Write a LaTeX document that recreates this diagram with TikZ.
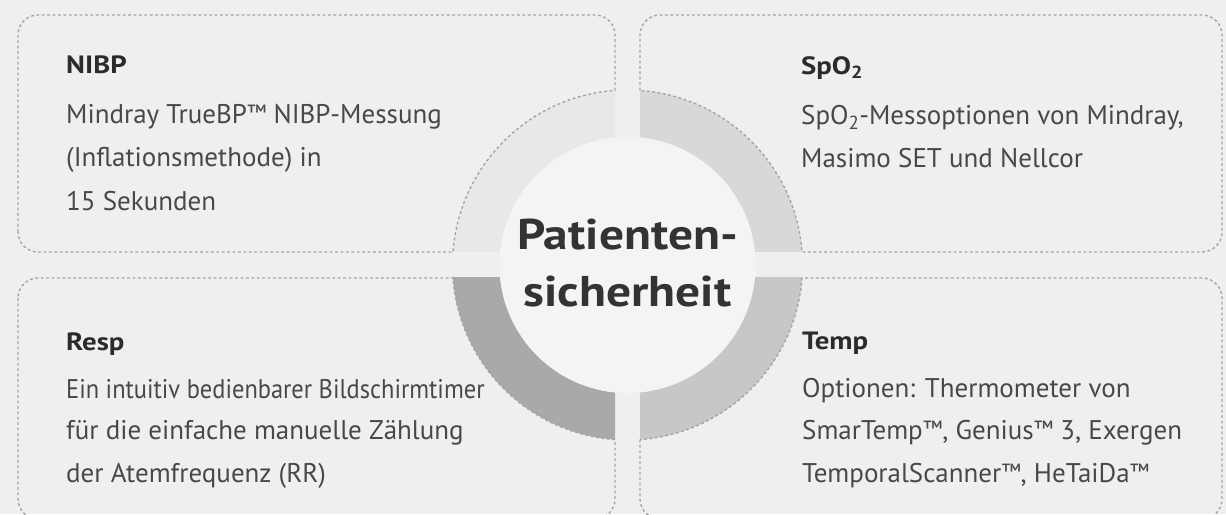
\documentclass[tikz,border=0pt]{standalone}
\usepackage{fontspec}
\setmainfont{PT Sans}
\newfontfamily\hdfont{PT Sans}[FakeStretch=1.15]
\definecolor{bg}{HTML}{EFEFEF}
\definecolor{qa}{HTML}{E8E8E8}
\definecolor{qb}{HTML}{D8D8D8}
\definecolor{qc}{HTML}{A9A9A9}
\definecolor{qd}{HTML}{C7C7C7}
\definecolor{innerc}{HTML}{F4F4F4}
\definecolor{dashc}{HTML}{A4A4A4}
\definecolor{txtc}{HTML}{484848}
\definecolor{ttlc}{HTML}{2B2B2B}
\definecolor{ctrc}{HTML}{333333}
\newcommand\tmark{\raisebox{.12em}{\fontsize{22}{22}\selectfont ™}}
\begin{document}
\begin{tikzpicture}[x=1pt,y=1pt,
  dashline/.style={draw=dashc, line width=1.4pt, dash pattern=on 2.8pt off 2.6pt},
  ttl/.style={anchor=base west, inner sep=0pt, font=\hdfont\fontsize{25}{28}\selectfont\bfseries, text=ttlc},
  body/.style={anchor=base west, inner sep=0pt, font=\fontsize{27}{32}\selectfont, text=txtc},
  ctr/.style={anchor=base, inner sep=0pt, font=\hdfont\fontsize{43}{50}\selectfont\bfseries, text=ctrc}]
\useasboundingbox (0,0) rectangle (1226,514);
\fill[bg] (0,0) rectangle (1226,514);
\coordinate (C) at (627.5,249);
% ring quadrants
\begin{scope}\clip (0,262) rectangle (615,514);
  \fill[qa, even odd rule] (C) circle[radius=175] (C) circle[radius=128];\end{scope}
\begin{scope}\clip (640,262) rectangle (1226,514);
  \fill[qb, even odd rule] (C) circle[radius=175] (C) circle[radius=128];\end{scope}
\begin{scope}\clip (0,0) rectangle (615,236);
  \fill[qc, even odd rule] (C) circle[radius=175] (C) circle[radius=128];\end{scope}
\begin{scope}\clip (640,0) rectangle (1226,236);
  \fill[qd, even odd rule] (C) circle[radius=175] (C) circle[radius=128];\end{scope}
\fill[innerc] (C) circle[radius=128];
% boxes
\draw[dashline] (18,282) -- (18,479) arc[start angle=180,end angle=90,radius=20]
  -- (595,499) arc[start angle=90,end angle=0,radius=20]
  -- (615,423.55) arc[start angle=94.1,end angle=175.74,radius=175]
  -- (38,262) arc[start angle=270,end angle=180,radius=20] -- cycle;
\draw[dashline] (640,423.55) -- (640,479) arc[start angle=180,end angle=90,radius=20]
  -- (1202,499) arc[start angle=90,end angle=0,radius=20]
  -- (1222,282) arc[start angle=0,end angle=-90,radius=20]
  -- (802.02,262) arc[start angle=4.26,end angle=85.9,radius=175] -- cycle;
\draw[dashline] (18,216) -- (18,15) arc[start angle=180,end angle=270,radius=20]
  -- (595,-5) arc[start angle=270,end angle=360,radius=20]
  -- (615,74.45) arc[start angle=265.9,end angle=184.26,radius=175]
  -- (38,236) arc[start angle=90,end angle=180,radius=20] -- cycle;
\draw[dashline] (640,74.45) -- (640,15) arc[start angle=180,end angle=270,radius=20]
  -- (1202,-5) arc[start angle=270,end angle=360,radius=20]
  -- (1222,216) arc[start angle=0,end angle=90,radius=20]
  -- (802.02,236) arc[start angle=-4.26,end angle=-85.9,radius=175] -- cycle;
% centre
\node[ctr] (c1) at (627.5,264) {Patienten-};
\node[ctr] (c2) at (627.5,207) {sicherheit};
% NIBP
\node[ttl] (nibp) at (66,440) {NIBP};
\node[body] (nibp1) at (66,390) {Mindray TrueBP\tmark{} NIBP-Messung};
\node[body] (nibp2) at (66,347) {(Inflationsmethode) in};
\node[body] (nibp3) at (66,303) {15 Sekunden};
% SpO2
\node[ttl] (spo) at (801,439) {SpO\textsubscript{2}};
\node[body] (spo1) at (801,389) {SpO\textsubscript{2}-Messoptionen von Mindray,};
\node[body] (spo2) at (801,346) {Masimo SET und Nellcor};
% Resp
\node[ttl] (resp) at (66,163) {Resp};
\node[body] (resp1) at (66,115) {\scalebox{0.905}[1]{Ein intuitiv bedienbarer Bildschirmtimer}};
\node[body] (resp2) at (66,74) {für die einfache manuelle Zählung};
\node[body] (resp3) at (66,31) {der Atemfrequenz (RR)};
% Temp
\node[ttl] (temp) at (802,164) {Temp};
\node[body] (temp1) at (802,116) {Optionen: Thermometer von};
\node[body] (temp2) at (802,74) {SmarTemp\tmark, Genius\tmark{} 3, Exergen};
\node[body] (temp3) at (802,31) {TemporalScanner\tmark, HeTaiDa\tmark};
\end{tikzpicture}
\end{document}
